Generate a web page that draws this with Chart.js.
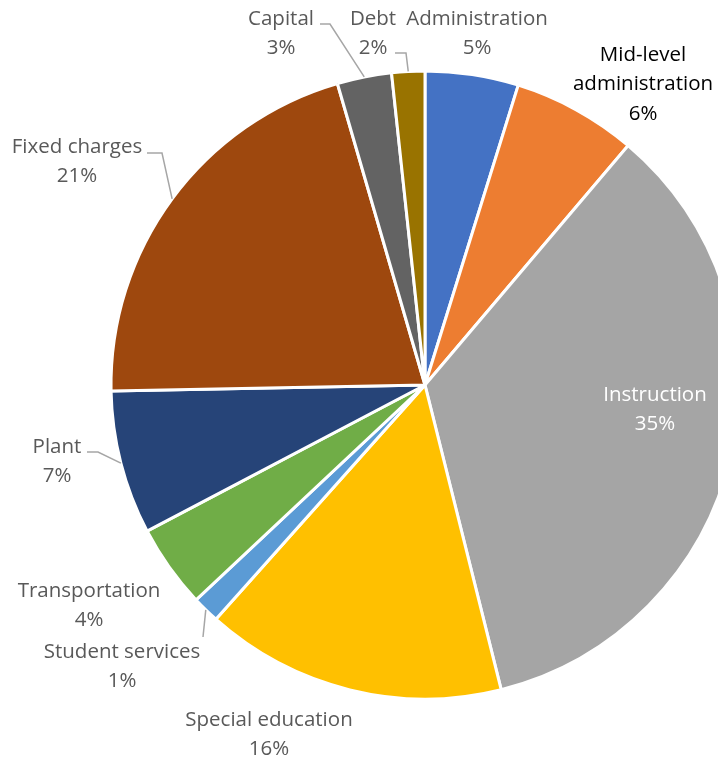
<!DOCTYPE html>
<html>
<head>
<meta charset="utf-8">
<script src="https://cdn.jsdelivr.net/npm/chart.js@4"></script>
<style>
  html, body { margin: 0; padding: 0; background: #fff; overflow: hidden; }
  #wrap { width: 718px; height: 763px; overflow: hidden; }
</style>
</head>
<body>
<div id="wrap">
  <canvas id="chart-budget__pie" width="760" height="763"></canvas>
</div>
<script>
const categories = ["Administration", "Mid-level administration", "Instruction", "Special education",
  "Student services", "Transportation", "Plant", "Fixed charges", "Capital", "Debt"];
const values = [4.8, 6.4, 34.9, 15.5, 1.4, 4.3, 7.4, 20.8, 2.8, 1.7];
const colors = ["#4472C4", "#ED7D31", "#A5A5A5", "#FFC000", "#5B9BD5",
  "#70AD47", "#264478", "#9E480E", "#636363", "#997300"];

// where Excel put each data label (centre of first line) and its leader elbow
const labelLayout = [
  { x: 477, y: 19, color: "#595959" },
  { x: 643, y: 55, color: "#000000", wrap: true },
  { x: 655, y: 395, color: "#ffffff" },
  { x: 269, y: 720, color: "#595959" },
  { x: 122, y: 652, color: "#595959", leader: [[203, 637]] },
  { x: 89, y: 591, color: "#595959" },
  { x: 57, y: 447, color: "#595959", leader: [[87, 452], [98, 452]] },
  { x: 77, y: 147, color: "#595959", leader: [[147, 153], [162, 153]] },
  { x: 281, y: 19, color: "#595959", leader: [[320, 24], [330, 24]] },
  { x: 373, y: 19, color: "#595959", leader: [[395, 53], [406, 53]] },
];

const dataLabels = {
  id: "dataLabels",
  afterDraw(chart) {
    const ctx = chart.ctx;
    const arcs = chart.getDatasetMeta(0).data;
    const total = values.reduce((a, b) => a + b, 0);
    ctx.save();
    ctx.font = '20.5px "Open Sans", "Noto Sans", sans-serif';
    ctx.textAlign = "center";
    ctx.textBaseline = "middle";
    labelLayout.forEach((lab, i) => {
      const arc = arcs[i];
      if (lab.leader) {
        const mid = (arc.startAngle + arc.endAngle) / 2;
        const px = arc.x + Math.cos(mid) * arc.outerRadius;
        const py = arc.y + Math.sin(mid) * arc.outerRadius;
        ctx.strokeStyle = "#A6A6A6";
        ctx.lineWidth = 1.5;
        ctx.beginPath();
        ctx.moveTo(lab.leader[0][0], lab.leader[0][1]);
        lab.leader.slice(1).forEach(p => ctx.lineTo(p[0], p[1]));
        ctx.lineTo(px, py);
        ctx.stroke();
      }
      const name = categories[i];
      const lines = lab.wrap ? name.split(" ") : [name];
      lines.push(Math.round(values[i] / total * 100) + "%");
      ctx.fillStyle = lab.color;
      lines.forEach((t, k) => ctx.fillText(t, lab.x, lab.y + k * 29.5));
    });
    ctx.restore();
  }
};

new Chart(document.getElementById("chart-budget__pie").getContext("2d"), {
  type: "pie",
  data: {
    labels: categories,
    datasets: [{
      data: values,
      backgroundColor: colors,
      borderColor: "#ffffff",
      borderWidth: 3,
    }],
  },
  options: {
    responsive: false,
    animation: false,
    radius: 314,
    layout: { padding: { left: 111, right: 21, top: 71, bottom: 64 } },
    plugins: {
      legend: { display: false },
      tooltip: { enabled: false },
    },
  },
  plugins: [dataLabels],
});
</script>
</body>
</html>
